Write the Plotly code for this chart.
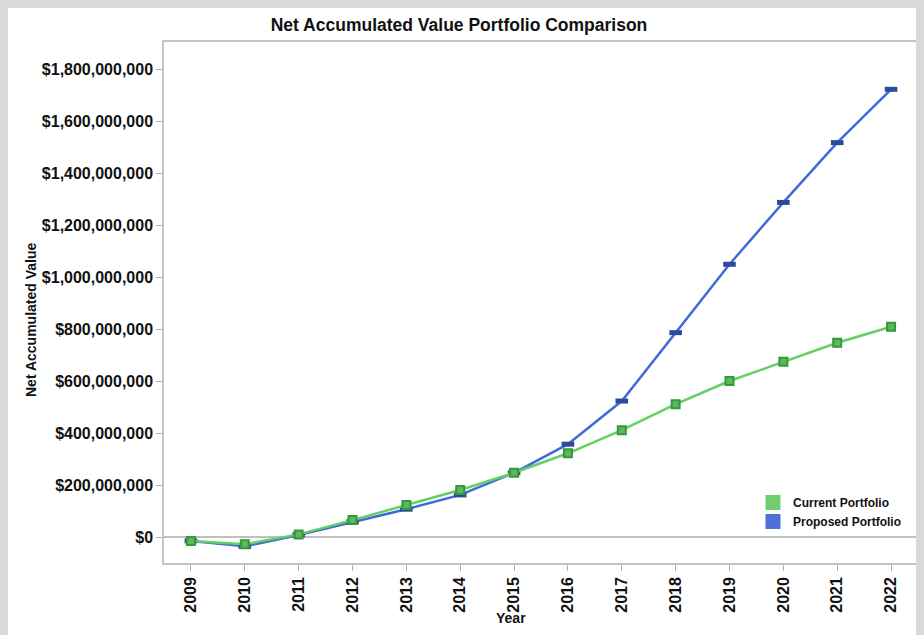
import plotly.graph_objects as go

years = [2009, 2010, 2011, 2012, 2013, 2014, 2015, 2016, 2017, 2018, 2019, 2020, 2021, 2022]
current_portfolio = [-15e6, -28e6, 10e6, 65e6, 123e6, 181e6, 247e6, 322e6, 411e6, 511e6, 600e6, 674e6, 747e6, 809e6]
proposed_portfolio = [-15e6, -36e6, 8e6, 58e6, 107e6, 162e6, 247e6, 357e6, 523e6, 786e6, 1049e6, 1287e6, 1517e6, 1722e6]
y_ticks = [0, 200e6, 400e6, 600e6, 800e6, 1000e6, 1200e6, 1400e6, 1600e6, 1800e6]
y_tick_labels = ["$0", "$200,000,000", "$400,000,000", "$600,000,000", "$800,000,000",
                 "$1,000,000,000", "$1,200,000,000", "$1,400,000,000", "$1,600,000,000", "$1,800,000,000"]

FONT = "Liberation Sans, Arial, sans-serif"
GREEN_LINE = "#62d062"
BLUE_LINE = "#3f6ad8"

fig = go.Figure()
fig.add_trace(go.Scatter(
    x=years, y=proposed_portfolio, mode="lines+markers", name="Proposed Portfolio",
    line=dict(color=BLUE_LINE, width=2.5),
    marker=dict(symbol="line-ew", size=9, line=dict(color="#2c4a9c", width=5)),
    showlegend=False))
fig.add_trace(go.Scatter(
    x=years, y=current_portfolio, mode="lines+markers", name="Current Portfolio",
    line=dict(color=GREEN_LINE, width=2.5),
    marker=dict(symbol="square", size=8, color="#5cb85c", line=dict(color="#35983a", width=2)),
    showlegend=False))
# legend swatches
fig.add_trace(go.Scatter(x=[None], y=[None], mode="markers", name="<b>Current Portfolio</b>",
                         marker=dict(symbol="square", size=15, color="#6fcf6f")))
fig.add_trace(go.Scatter(x=[None], y=[None], mode="markers", name="<b>Proposed Portfolio</b>",
                         marker=dict(symbol="square", size=15, color="#4a72d8")))

OFF = 8  # page body margin
W, H = 924 - OFF, 635 - OFF
# plot area edges in page pixels
P_L, P_R, P_T, P_B = 164, 918, 42, 563
L, R, T, B = P_L - OFF, W - (P_R - OFF), P_T - OFF, H - (P_B - OFF)
pw, ph = W - L - R, H - T - B

def px_x(x):
    return (x - P_L) / pw

def px_y(y):
    return (P_B - y) / ph

fig.update_layout(
    width=W, height=H,
    margin=dict(l=L, r=R, t=T, b=B, pad=0, autoexpand=False),
    paper_bgcolor="#d9d9d9",
    plot_bgcolor="white",
    font=dict(family=FONT, color="#111111"),
    title=dict(text="<b>Net Accumulated Value Portfolio Comparison</b>",
               x=(459 - OFF) / W, xref="container", xanchor="center",
               y=1 - (25 - OFF) / H, yref="container", yanchor="middle",
               font=dict(family=FONT, size=17.5, color="#111111")),
    showlegend=True,
    legend=dict(x=px_x(753), y=px_y(488), xanchor="left", yanchor="top",
                bgcolor="rgba(0,0,0,0)", font=dict(family=FONT, size=12, color="#111111"),
                itemsizing="trace", tracegroupgap=0, traceorder="normal"),
    shapes=[dict(type="rect", xref="paper", yref="paper",
                 x0=px_x(OFF - 2), x1=px_x(918), y0=px_y(640), y1=px_y(OFF - 2),
                 fillcolor="white", line=dict(width=0), layer="below")],
    annotations=[
        dict(text="<b>Net Accumulated Value</b>", xref="paper", yref="paper",
             x=px_x(31), y=px_y(320), textangle=-90, showarrow=False,
             xanchor="center", yanchor="middle", font=dict(family=FONT, size=14, color="#111111")),
        dict(text="<b>Year</b>", xref="paper", yref="paper",
             x=px_x(511), y=px_y(618), showarrow=False,
             xanchor="center", yanchor="middle", font=dict(family=FONT, size=14, color="#111111")),
    ],
)
fig.update_xaxes(
    range=[2008.5, 2022.5], tickmode="array", tickvals=years,
    ticktext=[f"<b>{y}</b>" for y in years], tickangle=-90,
    tickfont=dict(family=FONT, size=16, color="#111111"),
    ticks="outside", ticklen=6, tickcolor="#b0b0b0", automargin=False,
    showline=True, linecolor="#c4c4c4", linewidth=1.5, mirror=True,
    showgrid=False, zeroline=False)
fig.update_yaxes(
    range=[-100e6, 1904e6], tickmode="array", tickvals=y_ticks,
    ticktext=[f"<b>{t}</b>" for t in y_tick_labels],
    tickfont=dict(family=FONT, size=16, color="#111111"),
    ticks="outside", ticklen=6, tickcolor="#b0b0b0", automargin=False,
    showline=True, linecolor="#c4c4c4", linewidth=1.5, mirror=True,
    showgrid=False, zeroline=True, zerolinecolor="#c0c0c0", zerolinewidth=1.5)

fig.write_html("out.html", post_script="document.body.style.background='#d9d9d9';")
